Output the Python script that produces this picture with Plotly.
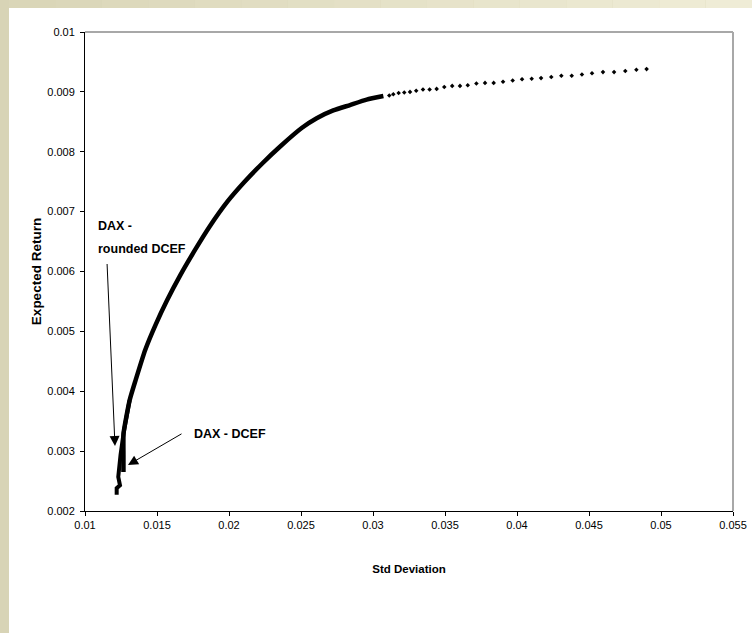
import plotly.graph_objects as go

# ---------------- data ----------------
# "DAX - DCEF" frontier: lower part, markers so dense they read as a thick line
dcef_dense_x = [0.01267, 0.01267, 0.01268, 0.01310, 0.01352, 0.01418, 0.01490, 0.01570,
                0.01662, 0.01764, 0.01868, 0.01990, 0.02105, 0.02229, 0.02361, 0.02507,
                0.02609, 0.02724, 0.02840, 0.02956, 0.03072]
dcef_dense_y = [0.00265, 0.00294, 0.00330, 0.00385, 0.00419, 0.00469, 0.00511, 0.00552,
                0.00594, 0.00636, 0.00676, 0.00717, 0.00749, 0.00780, 0.00810, 0.00840,
                0.00856, 0.00869, 0.00878, 0.00887, 0.00893]
# upper part where the individual dots separate
dcef_dots_x = [0.03113, 0.03141, 0.03178, 0.03217, 0.03257, 0.03300, 0.03347, 0.03393,
               0.03442, 0.03495, 0.03550, 0.03604, 0.03658, 0.03718, 0.03778, 0.03838,
               0.03903, 0.03970, 0.04035, 0.04102, 0.04167, 0.04238, 0.04308, 0.04380,
               0.04451, 0.04521, 0.04597, 0.04674, 0.04752, 0.04829, 0.04900]
dcef_dots_y = [0.00894, 0.00896, 0.00898, 0.00899, 0.00900, 0.00902, 0.00904, 0.00904,
               0.00905, 0.00908, 0.00910, 0.00910, 0.00911, 0.00914, 0.00915, 0.00915,
               0.00917, 0.00919, 0.00921, 0.00922, 0.00923, 0.00925, 0.00927, 0.00927,
               0.00929, 0.00931, 0.00933, 0.00933, 0.00935, 0.00937, 0.00938]
# "DAX - rounded DCEF": lower branch left of the frontier, merging with it
rounded_x = [0.01220, 0.01220, 0.01243, 0.01231, 0.01247, 0.01268, 0.01310]
rounded_y = [0.00227, 0.00238, 0.00243, 0.00257, 0.00294, 0.00330, 0.00385]

x_ticks = [0.01, 0.015, 0.02, 0.025, 0.03, 0.035, 0.04, 0.045, 0.05, 0.055]
x_tick_labels = ["0.01", "0.015", "0.02", "0.025", "0.03", "0.035", "0.04", "0.045", "0.05", "0.055"]
y_ticks = [0.002, 0.003, 0.004, 0.005, 0.006, 0.007, 0.008, 0.009, 0.01]
y_tick_labels = ["0.002", "0.003", "0.004", "0.005", "0.006", "0.007", "0.008", "0.009", "0.01"]

# ---------------- layout geometry ----------------
W, H = 752, 633
L, R, T, B = 85, 19, 32, 122
PW, PH = W - L - R, H - T - B
BAND_L, BAND_T = 9, 8


def px(xp):
    return (xp - L) / PW


def py(yp):
    return (H - B - yp) / PH


FONT = "Liberation Sans, Arial, sans-serif"

fig = go.Figure()
fig.add_trace(go.Scatter(x=dcef_dense_x, y=dcef_dense_y, mode="lines",
                         line=dict(color="black", width=4.5, shape="spline", smoothing=0.5),
                         name="DAX - DCEF", showlegend=False))
fig.add_trace(go.Scatter(x=dcef_dots_x, y=dcef_dots_y, mode="markers",
                         marker=dict(color="black", size=3.5, symbol="diamond"),
                         name="DAX - DCEF", showlegend=False))
fig.add_trace(go.Scatter(x=rounded_x, y=rounded_y, mode="lines",
                         line=dict(color="black", width=4),
                         name="DAX - rounded DCEF", showlegend=False))

shapes = []
# beige frame (left and top bands) around a white page
shapes.append(dict(type="rect", xref="paper", yref="paper", layer="below",
                   x0=px(0), x1=px(BAND_L), y0=py(H), y1=py(0),
                   fillcolor="#D8D4B6", line=dict(width=0)))
n = 16
c0 = (0xDA, 0xD6, 0xB8)
c1 = (0xEF, 0xEC, 0xD6)
for i in range(n):
    t = i / (n - 1)
    col = "#%02X%02X%02X" % tuple(int(round(a + (b - a) * t)) for a, b in zip(c0, c1))
    shapes.append(dict(type="rect", xref="paper", yref="paper", layer="below",
                       x0=px(BAND_L + (W - BAND_L) * i / n),
                       x1=px(BAND_L + (W - BAND_L) * (i + 1) / n),
                       y0=py(BAND_T), y1=py(0), fillcolor=col, line=dict(width=0)))
shapes.append(dict(type="rect", xref="paper", yref="paper", layer="below",
                   x0=px(BAND_L), x1=px(W), y0=py(H), y1=py(BAND_T),
                   fillcolor="white", line=dict(width=0)))
# gray top and right border of the plot area
shapes.append(dict(type="line", xref="paper", yref="paper", x0=0, x1=1, y0=1, y1=1,
                   line=dict(color="#A8A8A8", width=2)))
shapes.append(dict(type="line", xref="paper", yref="paper", x0=1, x1=1, y0=0, y1=1,
                   line=dict(color="#A8A8A8", width=2)))

annotations = [
    dict(text="<b>DAX -</b>", xref="paper", yref="paper", x=px(96), y=py(226),
         xanchor="left", yanchor="middle", showarrow=False,
         font=dict(family=FONT, size=12.5, color="black")),
    dict(text="<b>rounded DCEF</b>", xref="paper", yref="paper", x=px(96), y=py(249),
         xanchor="left", yanchor="middle", showarrow=False,
         font=dict(family=FONT, size=12.5, color="black")),
    dict(text="<b>DAX - DCEF</b>", xref="paper", yref="paper", x=px(192), y=py(434),
         xanchor="left", yanchor="middle", showarrow=False,
         font=dict(family=FONT, size=12.5, color="black")),
    dict(text=" ", xref="paper", yref="paper", x=px(115), y=py(446),
         showarrow=True, ax=-8, ay=-184, arrowhead=2, arrowsize=2, arrowwidth=1,
         arrowcolor="black", font=dict(size=1)),
    dict(text=" ", xref="paper", yref="paper", x=px(128), y=py(465),
         showarrow=True, ax=55, ay=-32, arrowhead=2, arrowsize=2, arrowwidth=1,
         arrowcolor="black", font=dict(size=1)),
]

fig.update_layout(
    width=W, height=H,
    margin=dict(l=L, r=R, t=T, b=B, pad=0, autoexpand=False),
    paper_bgcolor="#D8D4B6",
    plot_bgcolor="white",
    showlegend=False,
    shapes=shapes,
    annotations=annotations,
    font=dict(family=FONT, color="black"),
)
fig.update_xaxes(range=[0.01, 0.055], tickvals=x_ticks, ticktext=x_tick_labels,
                 automargin=False,
                 showgrid=False, zeroline=False, showline=True, linecolor="black", linewidth=1,
                 ticks="outside", ticklen=4, tickcolor="black",
                 tickfont=dict(family=FONT, size=11, color="black"),
                 title=dict(text="<b>Std Deviation</b>", font=dict(family=FONT, size=11.5),
                            standoff=34))
fig.update_yaxes(range=[0.002, 0.01], tickvals=y_ticks, ticktext=y_tick_labels,
                 automargin=False,
                 showgrid=False, zeroline=False, showline=True, linecolor="black", linewidth=1,
                 ticks="outside", ticklen=4, tickcolor="black", ticklabelstandoff=3,
                 tickfont=dict(family=FONT, size=11, color="black"),
                 title=dict(text="<b>Expected Return</b>", font=dict(family=FONT, size=13.5),
                            standoff=2))

fig.write_html(
    "out.html",
    config={"displayModeBar": False, "staticPlot": True},
    post_script="document.body.style.margin='0';document.body.style.overflow='hidden';"
                "document.body.style.background='#D8D4B6';",
)
